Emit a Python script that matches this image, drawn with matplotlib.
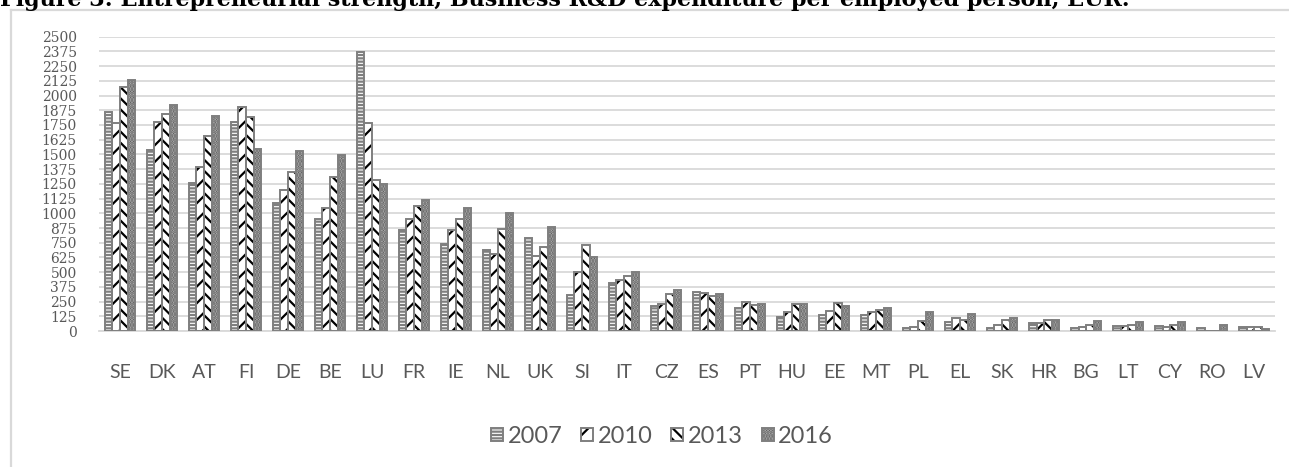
import numpy as np
import matplotlib
matplotlib.use('Agg')
import matplotlib.pyplot as plt
from matplotlib.patches import Patch

plt.rcParams['hatch.linewidth'] = 1.6

countries = ['SE', 'DK', 'AT', 'FI', 'DE', 'BE', 'LU', 'FR', 'IE', 'NL', 'UK', 'SI', 'IT', 'CZ',
             'ES', 'PT', 'HU', 'EE', 'MT', 'PL', 'EL', 'SK', 'HR', 'BG', 'LT', 'CY', 'RO', 'LV']
v2007 = [1863, 1537, 1254, 1778, 1090, 948, 2367, 860, 742, 688, 793, 303, 405, 209,
         334, 195, 122, 136, 133, 28, 76, 28, 68, 23, 40, 40, 28, 34]
v2010 = [1764, 1778, 1396, 1900, 1197, 1042, 1764, 955, 858, 651, 637, 498, 436, 226,
         323, 246, 164, 173, 161, 34, 113, 54, 68, 34, 40, 34, 0, 34]
v2013 = [2069, 1840, 1656, 1817, 1348, 1311, 1282, 1065, 948, 869, 716, 728, 467, 314,
         297, 218, 226, 240, 176, 85, 96, 96, 90, 48, 54, 48, 0, 34]
v2016 = [2132, 1917, 1829, 1546, 1532, 1492, 1246, 1113, 1045, 1002, 880, 631, 498, 345,
         314, 226, 226, 216, 192, 161, 147, 113, 90, 85, 74, 76, 48, 20]
years = ['2007', '2010', '2013', '2016']
title = 'Figure 3: Entrepreneurial strength, Business R&D expenditure per employed person, EUR.'

# (fill, hatch colour, hatch)
styles = [('white', '#7f7f7f', '-----'),
          ('white', 'black', '//'),
          ('white', 'black', '\\\\\\'),
          ('#bfbfbf', '#595959', '......')]
edge = '#7f7f7f'
grey = '#595959'

fig = plt.figure(figsize=(12.89, 4.67), dpi=100)
ax = fig.add_axes([0.0768, 0.2912, 0.9124, 0.6302])

x = np.arange(len(countries))
w = 0.18
series = [v2007, v2010, v2013, v2016]
for i, vals in enumerate(series):
    fc, hc, h = styles[i]
    pos = x + (i - 1.5) * w
    ax.bar(pos, vals, w, color=fc, edgecolor=hc, hatch=h, linewidth=0, zorder=2)
    ax.bar(pos, vals, w, fill=False, edgecolor=edge, linewidth=1.4, zorder=3)

ax.set_xlim(-0.5, len(countries) - 0.5)
ax.set_ylim(0, 2500)
ax.set_yticks(np.arange(0, 2501, 125))
ax.yaxis.grid(True, color='#d9d9d9', linewidth=1.3, zorder=0)
ax.set_axisbelow(True)
for s in ['top', 'right', 'left']:
    ax.spines[s].set_visible(False)
ax.spines['bottom'].set_color('#d9d9d9')
ax.spines['bottom'].set_linewidth(1.3)

ax.set_xticks(x)
ax.set_xticklabels(countries, fontfamily='Lato', fontsize=14, color=grey)
ax.tick_params(axis='x', length=0, pad=24)
ax.tick_params(axis='y', length=0, pad=16, labelcolor=grey)
for lab in ax.get_yticklabels():
    lab.set_fontfamily('DejaVu Serif')
    lab.set_fontsize(10)

# legend: hatched square + grey outline on top
handles = []
for i in range(4):
    fc, hc, h = styles[i]
    handles.append((Patch(facecolor=fc, edgecolor=hc, hatch=h, linewidth=0),
                    Patch(fill=False, edgecolor=edge, linewidth=1.4)))
leg = fig.legend(handles, years, loc='center', bbox_to_anchor=(0.5136, 0.066), ncol=4,
                 frameon=False, handlelength=0.5, handleheight=0.5, handletextpad=0.2,
                 columnspacing=0.8, prop={'family': 'Lato', 'size': 17})
for t in leg.get_texts():
    t.set_color(grey)

# chart frame (cut by page edge on right and bottom)
fig.add_artist(plt.Line2D([11 / 1289, 11 / 1289], [0, 1 - 10 / 467],
                          transform=fig.transFigure, color='#d9d9d9', linewidth=1.6))
fig.add_artist(plt.Line2D([11 / 1289, 1], [1 - 10 / 467, 1 - 10 / 467],
                          transform=fig.transFigure, color='#d9d9d9', linewidth=1.6))

fig.text(0.0, 1 - 6 / 467, title, fontfamily='DejaVu Serif', fontweight='bold',
         fontsize=16, va='baseline', ha='left', color='black')

fig.savefig('out.png', dpi=100)
